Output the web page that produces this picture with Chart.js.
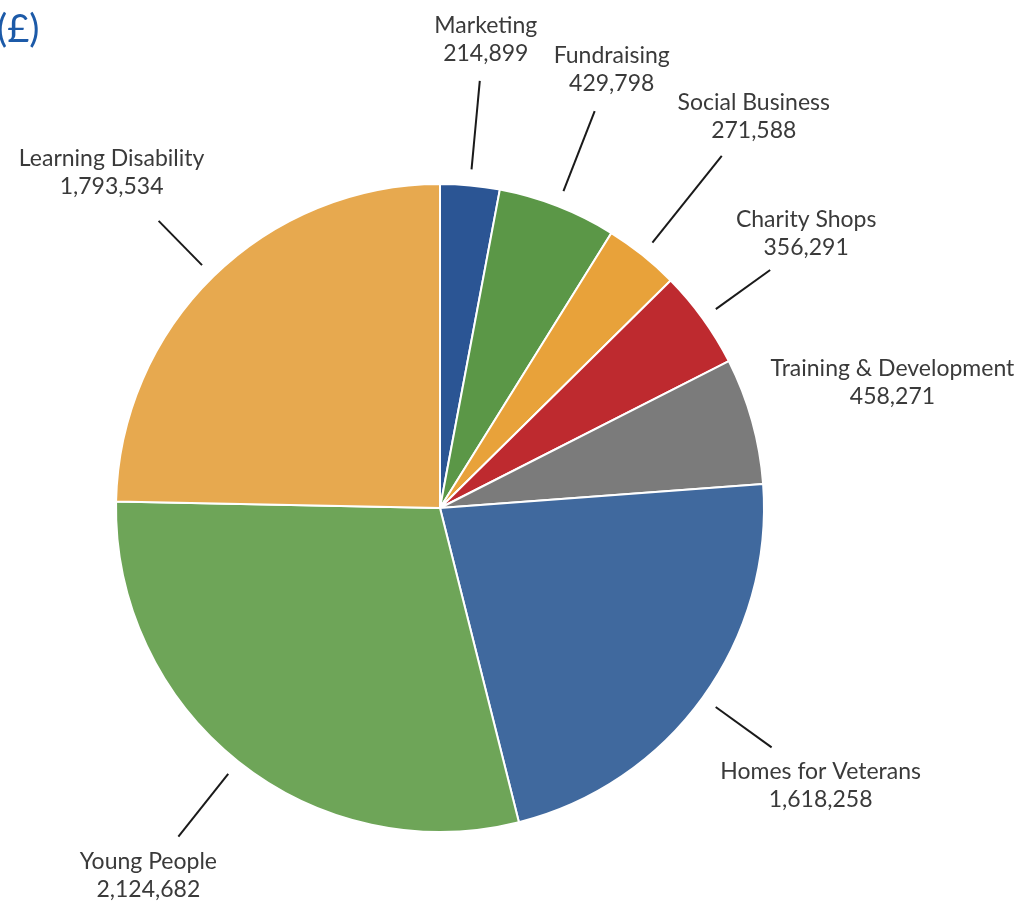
<!DOCTYPE html>
<html>
<head>
<meta charset="utf-8">
<script src="https://cdn.jsdelivr.net/npm/chart.js@4"></script>
<style>
  html, body { margin: 0; padding: 0; background: #fff; }
  #wrap { position: relative; width: 1024px; height: 906px; overflow: hidden; }
  #unit { position: absolute; left: -3px; top: 4px; font: 38px Lato, sans-serif; color: #1c5aa8; }
</style>
</head>
<body>
<div id="wrap">
  <canvas id="chartCostes"></canvas>
  <div id="unit">(£)</div>
</div>
<script>
const categories = ["Marketing", "Fundraising", "Social Business", "Charity Shops",
  "Training & Development", "Homes for Veterans", "Young People", "Learning Disability"];
const amounts = [214899, 429798, 271588, 356291, 458271, 1618258, 2124682, 1793534];
const valueLabels = ["214,899", "429,798", "271,588", "356,291", "458,271", "1,618,258", "2,124,682", "1,793,534"];
const colours = ["#2b5594", "#5b9747", "#e8a23a", "#be2a2f", "#7b7b7b", "#40699e", "#6ea558", "#e7a94f"];

// leader line length beyond the rim, and text offset from line end
const labelLayout = [
  { out: 105, dx: 6, dy: -41 },
  { out: 102, dx: 17, dy: -41 },
  { out: 127, dx: 32, dy: -39 },
  { out: 83, dx: 36, dy: -36 },
  { out: 16, dx: 125, dy: -34, noLine: true },
  { out: 85, dx: 49, dy: 38 },
  { out: 96, dx: -30, dy: 39 },
  { out: 78, dx: -47, dy: -48 }
];

const leaderLabels = {
  id: "leaderLabels",
  afterDatasetsDraw(chart) {
    const c = chart.ctx;
    const arcs = chart.getDatasetMeta(0).data;
    c.save();
    c.font = "23px Lato, sans-serif";
    c.fillStyle = "#3a3a3a";
    c.strokeStyle = "#1a1a1a";
    c.lineWidth = 2;
    c.textAlign = "center";
    c.textBaseline = "middle";
    arcs.forEach((arc, i) => {
      const p = arc.getProps(["x", "y", "startAngle", "endAngle", "outerRadius"], true);
      const mid = (p.startAngle + p.endAngle) / 2;
      const lay = labelLayout[i];
      const r0 = p.outerRadius + 16;
      const r1 = p.outerRadius + lay.out;
      const x0 = p.x + Math.cos(mid) * r0, y0 = p.y + Math.sin(mid) * r0;
      const x1 = p.x + Math.cos(mid) * r1, y1 = p.y + Math.sin(mid) * r1;
      if (!lay.noLine) {
        c.beginPath();
        c.moveTo(x0, y0);
        c.lineTo(x1, y1);
        c.stroke();
      }
      const tx = x1 + lay.dx, ty = y1 + lay.dy;
      c.fillText(categories[i], tx, ty - 14);
      c.fillText(valueLabels[i], tx, ty + 14);
    });
    c.restore();
  }
};

new Chart(document.getElementById("chartCostes"), {
  type: "pie",
  data: {
    labels: categories,
    datasets: [{
      data: amounts,
      backgroundColor: colours,
      borderColor: "#ffffff",
      borderWidth: 2
    }]
  },
  options: {
    responsive: true,
    maintainAspectRatio: false,
    animation: false,
    layout: { padding: { left: 115, right: 259, top: 183, bottom: 73 } },
    plugins: {
      legend: { display: false },
      tooltip: { enabled: false }
    }
  },
  plugins: [leaderLabels]
});
</script>
</body>
</html>
